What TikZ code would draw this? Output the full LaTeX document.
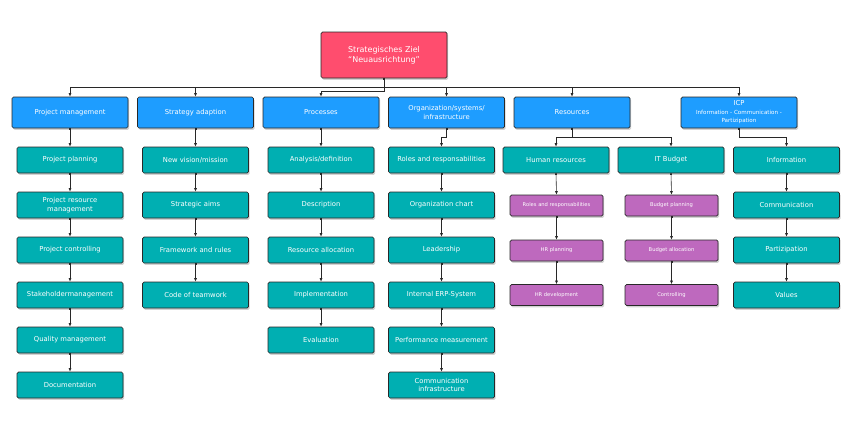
\documentclass[tikz,border=0pt]{standalone}
\usepackage{fontspec}
\setmainfont{DejaVu Sans}
\usetikzlibrary{arrows.meta,shadows}
\definecolor{rootc}{RGB}{255,77,110}
\definecolor{bluec}{RGB}{30,157,255}
\definecolor{tealc}{RGB}{0,175,178}
\definecolor{purpc}{RGB}{190,105,190}
\definecolor{linec}{RGB}{40,40,40}
\tikzset{
  box/.style={rounded corners=1.5pt, draw=linec, line width=0.7pt, text=white, align=center, inner sep=1pt,
    drop shadow={shadow xshift=1.2pt, shadow yshift=-1.8pt, fill=black!35, opacity=0.5}},
  rootbox/.style={box, fill=rootc, minimum width=126pt, minimum height=46pt, font=\fontsize{8}{10}\selectfont},
  topbox/.style={box, fill=bluec, minimum width=116pt, minimum height=31pt, font=\fontsize{6.8}{8.5}\selectfont},
  tealbox/.style={box, fill=tealc, minimum width=106pt, minimum height=26pt, font=\fontsize{6.8}{8.5}\selectfont},
  purpbox/.style={box, fill=purpc, minimum width=93pt, minimum height=21pt, font=\fontsize{5.2}{6.5}\selectfont},
  conn/.style={draw=linec, line width=0.6pt, {Square[length=1.6pt,width=1.6pt]}-{Latex[length=3.5pt,width=3pt]}},
}
\begin{document}
\begin{tikzpicture}[x=1pt,y=-1pt]
\useasboundingbox[fill=white] (0,0) rectangle (850,431);
% root
\node[rootbox] (root) at (384,55) {Strategisches Ziel\\``Neuausrichtung''};
% top level
\node[topbox] (pm) at (70,112.5) {Project management};
\node[topbox] (sa) at (195.5,112.5) {Strategy adaption};
\node[topbox] (pr) at (321,112.5) {Processes};
\node[topbox] (org) at (446.5,112.5) {Organization/systems/\\infrastructure};
\node[topbox] (res) at (572,112.5) {Resources};
\node[topbox] (icp) at (739,112.5) {ICP\\{\fontsize{5.6}{6.8}\selectfont Information - Communication -}\\{\fontsize{5.6}{6.8}\selectfont Partizipation}};
% project management column
\node[tealbox] (pm1) at (70,160) {Project planning};
\node[tealbox] (pm2) at (70,205) {Project resource\\management};
\node[tealbox] (pm3) at (70,250) {Project controlling};
\node[tealbox] (pm4) at (70,295) {Stakeholdermanagement};
\node[tealbox] (pm5) at (70,340) {Quality management};
\node[tealbox] (pm6) at (70,385) {Documentation};
% strategy
\node[tealbox] (sa1) at (195.5,160) {New vision/mission};
\node[tealbox] (sa2) at (195.5,205) {Strategic aims};
\node[tealbox] (sa3) at (195.5,250) {Framework and rules};
\node[tealbox] (sa4) at (195.5,295) {Code of teamwork};
% processes
\node[tealbox] (pr1) at (321,160) {Analysis/definition};
\node[tealbox] (pr2) at (321,205) {Description};
\node[tealbox] (pr3) at (321,250) {Resource allocation};
\node[tealbox] (pr4) at (321,295) {Implementation};
\node[tealbox] (pr5) at (321,340) {Evaluation};
% organization
\node[tealbox] (or1) at (441.5,160) {Roles and responsabilities};
\node[tealbox] (or2) at (441.5,205) {Organization chart};
\node[tealbox] (or3) at (441.5,250) {Leadership};
\node[tealbox] (or4) at (441.5,295) {Internal ERP-System};
\node[tealbox] (or5) at (441.5,340) {Performance measurement};
\node[tealbox] (or6) at (441.5,385) {Communication\\infrastructure};
% resources
\node[tealbox] (hr) at (556,160) {Human resources};
\node[tealbox] (it) at (671,160) {IT Budget};
\node[purpbox] (hr1) at (556.5,205.5) {Roles and responsabilities};
\node[purpbox] (hr2) at (556.5,250.5) {HR planning};
\node[purpbox] (hr3) at (556.5,295) {HR development};
\node[purpbox] (it1) at (671.5,205.5) {Budget planning};
\node[purpbox] (it2) at (671.5,250.5) {Budget allocation};
\node[purpbox] (it3) at (671.5,295) {Controlling};
% ICP
\node[tealbox] (ic1) at (786.5,160) {Information};
\node[tealbox] (ic2) at (786.5,205) {Communication};
\node[tealbox] (ic3) at (786.5,250) {Partizipation};
\node[tealbox] (ic4) at (786.5,295) {Values};
% root connectors
\foreach \c in {pm,sa,org,res,icp}{
  \draw[conn] (root.south) -- (root.south |- 0,87) -| (\c.north);
}
\draw[conn] (root.south) -- (root.south |- 0,91) -| (pr.north);
% second level connectors
\draw[conn] (pm.south) -- (pm1.north);
\draw[conn] (sa.south) -- (sa1.north);
\draw[conn] (pr.south) -- (pr1.north);
\draw[conn] (org.south) -- (org.south |- 0,137) -| (or1.north);
\draw[conn] (res.south) -- (res.south |- 0,137) -| (hr.north);
\draw[conn] (res.south) -- (res.south |- 0,137) -| (it.north);
\draw[conn] (icp.south) -- (icp.south |- 0,137) -| (ic1.north);
% chains
\foreach \a/\b in {pm1/pm2,pm2/pm3,pm3/pm4,pm4/pm5,pm5/pm6,
  sa1/sa2,sa2/sa3,sa3/sa4,
  pr1/pr2,pr2/pr3,pr3/pr4,pr4/pr5,
  or1/or2,or2/or3,or3/or4,or4/or5,or5/or6,
  hr/hr1,hr1/hr2,hr2/hr3,it/it1,it1/it2,it2/it3,
  ic1/ic2,ic2/ic3,ic3/ic4}{
  \draw[conn] (\a.south) -- (\b.north);
}
\end{tikzpicture}
\end{document}
